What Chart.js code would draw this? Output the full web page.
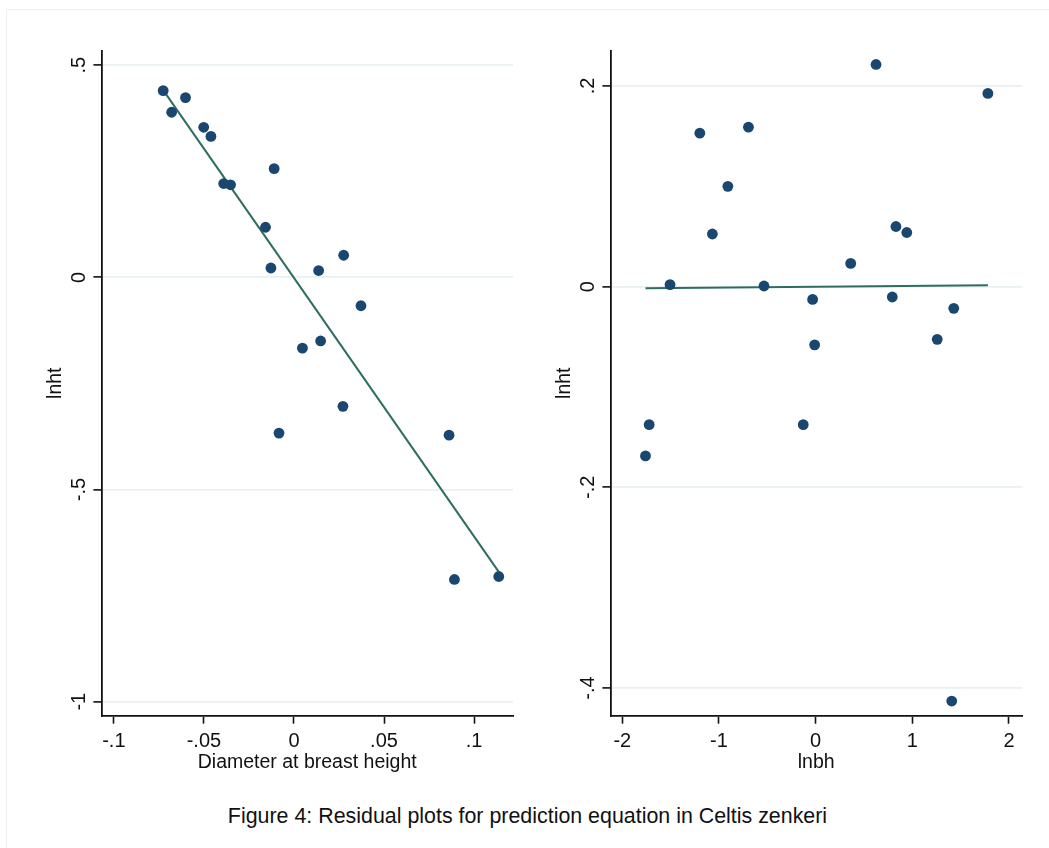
<!DOCTYPE html>
<html>
<head>
<meta charset="utf-8">
<title>Residual plots - Celtis zenkeri</title>
<script src="https://cdn.jsdelivr.net/npm/chart.js@4.4.1/dist/chart.umd.min.js"></script>
<style>
  body { margin: 0; background: #fff; }
  #page { position: relative; width: 1049px; height: 848px; overflow: hidden; background: #fff;
          font-family: "Liberation Sans", Arial, Helvetica, sans-serif; }
  #frame { position: absolute; left: 6px; top: 9px; right: 0; bottom: 0;
           border-top: 1px solid #eeeeee; border-left: 1px solid #eeeeee; }
  canvas { position: absolute; top: 0; }
  #leftChart { left: 0; }
  #rightChart { left: 509px; }
  #caption { position: absolute; left: 0; width: 1055px; top: 806px; text-align: center;
             font-size: 21.4px; line-height: 21px; color: #111; white-space: nowrap; }
</style>
</head>
<body>
<div id="page">
  <div id="frame"></div>
  <canvas id="leftChart" width="530" height="790"></canvas>
  <canvas id="rightChart" width="530" height="790"></canvas>
  <div id="caption">Figure 4: Residual plots for prediction equation in Celtis zenkeri</div>
</div>

<script>
/* ================= DATA ================= */

// left panel: lnht vs diameter at breast height
const dbhX = [-0.0726, -0.0679, -0.0602, -0.0501, -0.0461, -0.0390, -0.0352, -0.0110, -0.0158, -0.0128,
              0.0137, 0.0276, 0.0372, 0.0047, 0.0148, 0.0272, -0.0083, 0.0861, 0.0891, 0.1137];
const dbhY = [0.440, 0.389, 0.4235, 0.3535, 0.332, 0.221, 0.218, 0.256, 0.118, 0.022,
              0.016, 0.052, -0.067, -0.167, -0.150, -0.304, -0.367, -0.372, -0.712, -0.705];
const dbhFitX = [-0.0726, 0.1137];
const dbhFitY = [0.441, -0.694];
const dbhXTicks = [-0.1, -0.05, 0, 0.05, 0.1];
const dbhXLabels = ["-.1", "-.05", "0", ".05", ".1"];
const dbhYTicks = [0.5, 0, -0.5, -1];
const dbhYLabels = [".5", "0", "-.5", "-1"];

// right panel: lnht vs lnbh
const lnbhX = [-1.506, -1.198, -1.068, -0.908, -0.695, -0.534, -0.031, -0.010, 0.363, 0.625,
               0.831, 0.943, 0.793, 1.429, 1.258, 1.782, -1.722, -1.760, -0.128, 1.408];
const lnbhY = [0.002, 0.153, 0.0525, 0.100, 0.159, 0.0007, -0.0127, -0.058, 0.0232, 0.2215,
               0.060, 0.054, -0.0103, -0.0216, -0.0525, 0.1926, -0.1375, -0.1687, -0.1375, -0.413];
const lnbhFitX = [-1.760, 1.782];
const lnbhFitY = [-0.0015, 0.0015];
const lnbhXTicks = [-2, -1, 0, 1, 2];
const lnbhXLabels = ["-2", "-1", "0", "1", "2"];
const lnbhYTicks = [0.2, 0, -0.2, -0.4];
const lnbhYLabels = [".2", "0", "-.2", "-.4"];

/* ================= STYLE ================= */

const FONT = '"Liberation Sans", Arial, Helvetica, sans-serif';
const NAVY = "#1a476f";
const FIT = "#2e6d60";
const GRID = "#e9f0f3";
const AXIS = "#111";
const TEXT = "#111";

// Stata draws y tick labels turned on their side
const yTickLabels = {
  id: "yTickLabels",
  afterDraw(chart, args, opts) {
    const s = chart.scales.y;
    const ctx = chart.ctx;
    ctx.save();
    ctx.font = "20px " + FONT;
    ctx.fillStyle = TEXT;
    ctx.textAlign = "center";
    ctx.textBaseline = "alphabetic";
    opts.values.forEach((v, i) => {
      ctx.save();
      ctx.translate(s.right - 16, s.getPixelForValue(v));
      ctx.rotate(-Math.PI / 2);
      ctx.fillText(opts.labels[i], 0, 0);
      ctx.restore();
    });
    ctx.restore();
  }
};

/* ================= CHART ================= */

function residualChart(canvasId, p) {
  const points = p.x.map((x, i) => ({ x, y: p.y[i] }));
  const fit = p.fitX.map((x, i) => ({ x, y: p.fitY[i] }));

  return new Chart(document.getElementById(canvasId), {
    type: "scatter",
    data: {
      datasets: [
        { data: points, backgroundColor: NAVY, borderWidth: 0, pointRadius: 5.4, order: 0 },
        { data: fit, showLine: true, borderColor: FIT, borderWidth: 2, pointRadius: 0, order: 1 }
      ]
    },
    options: {
      responsive: false,
      animation: false,
      layout: { padding: { top: 50.7, right: 17, left: 0, bottom: 0 } },
      plugins: {
        legend: { display: false },
        tooltip: { enabled: false },
        yTickLabels: { values: p.yTicks, labels: p.yLabels }
      },
      scales: {
        x: {
          type: "linear",
          min: p.xMin,
          max: p.xMax,
          afterBuildTicks: s => { s.ticks = p.xTicks.map(v => ({ value: v })); },
          afterFit: s => { s.height = 74.3; },
          grid: { drawOnChartArea: false, tickLength: 8, tickColor: AXIS, tickWidth: 1.6 },
          border: { color: AXIS, width: 1.8 },
          ticks: {
            callback: (v, i) => p.xLabels[i],
            font: { size: 20, family: FONT },
            color: TEXT,
            padding: 6,
            maxRotation: 0,
            autoSkip: false
          },
          title: {
            display: true,
            text: p.xTitle,
            font: { size: 19.5, family: FONT },
            color: TEXT,
            padding: { top: 0, bottom: 16 }
          }
        },
        y: {
          type: "linear",
          min: p.yMin,
          max: p.yMax,
          afterBuildTicks: s => { s.ticks = p.yTicks.map(v => ({ value: v })); },
          afterFit: s => { s.width = 101.4; },
          grid: { color: GRID, lineWidth: 1.8, tickLength: 8, tickColor: AXIS, tickWidth: 1.6 },
          border: { color: AXIS, width: 1.8 },
          ticks: { display: false },
          title: {
            display: true,
            text: "lnht",
            font: { size: 19.5, family: FONT },
            color: TEXT,
            padding: { top: 44.4, bottom: 0 }
          }
        }
      }
    },
    plugins: [yTickLabels]
  });
}

residualChart("leftChart", {
  x: dbhX, y: dbhY, fitX: dbhFitX, fitY: dbhFitY,
  xMin: -0.1069, xMax: 0.1216, yMin: -1.033, yMax: 0.534,
  xTicks: dbhXTicks, xLabels: dbhXLabels, yTicks: dbhYTicks, yLabels: dbhYLabels,
  xTitle: "Diameter at breast height"
});

residualChart("rightChart", {
  x: lnbhX, y: lnbhY, fitX: lnbhFitX, fitY: lnbhFitY,
  xMin: -2.123, xMax: 2.135, yMin: -0.4276, yMax: 0.2352,
  xTicks: lnbhXTicks, xLabels: lnbhXLabels, yTicks: lnbhYTicks, yLabels: lnbhYLabels,
  xTitle: "lnbh"
});
</script>
</body>
</html>
